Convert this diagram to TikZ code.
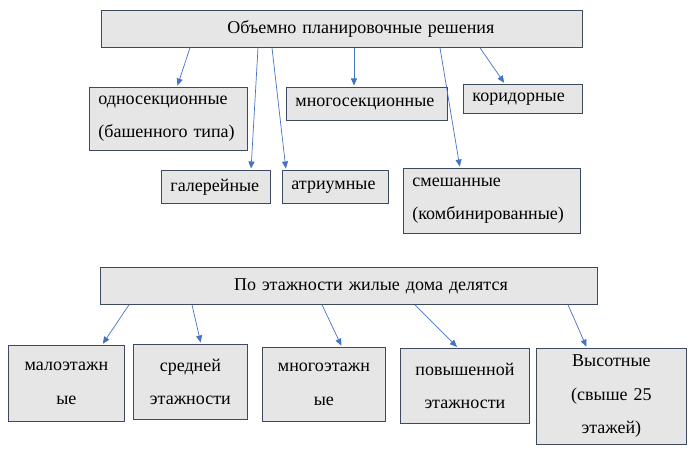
\documentclass[tikz,border=0pt]{standalone}
\usepackage{fontspec}
\setmainfont{Liberation Serif}
\usepackage{tikz}
\usetikzlibrary{arrows.meta}

\definecolor{boxfill}{HTML}{E7E6E6}
\definecolor{boxline}{HTML}{3B4A5E}
\definecolor{linkblue}{HTML}{4472C4}

\begin{document}
\begin{tikzpicture}[x=1pt, y=-1pt,
            box/.style={draw=boxline, fill=boxfill, line width=0.8pt, anchor=north west,
                        inner xsep=9pt, inner ysep=0pt, font=\fontsize{18}{33.5}\selectfont},
            box left/.style={box, align=left},
            box mid/.style={box, align=center, inner xsep=4pt},
            link/.style={-{Triangle[width=6pt, length=7pt]}, linkblue, line width=0.7pt, shorten >=1.5pt}]

            \useasboundingbox (0,0) rectangle (691,452);

            % Planning solutions
            \node[box mid, text width=473, minimum height=37] (plan) at (101,10)
                {\hspace*{38pt}Объемно планировочные решения};
            \node[box left, text width=140, minimum height=63] (odno) at (89,87)
                {односекционные\\(башенного типа)};
            \node[box left, text width=143, minimum height=33] (mnogo) at (286,87) {многосекционные};
            \node[box left, text width=101, minimum height=29] (korid) at (463,84) {коридорные};
            \node[box left, text width=91, minimum height=33] (galer) at (161,170) {галерейные};
            \node[box left, text width=88, minimum height=33] (atri) at (282,170) {атриумные};
            \node[box left, text width=159, minimum height=65] (smesh) at (403,168)
                {смешанные\\(комбинированные)};

            \foreach \s/\t/\d in {89/odno/88, 157/galer/90, 171/atri/4,
                                  253/mnogo/68, 339/smesh/57, 379/korid/42} {
                \draw[link] ([xshift=\s pt]plan.south west) -- ([xshift=\d pt]\t.north west);
            }

            % Number of storeys
            \node[box mid, text width=489, minimum height=37] (etazh) at (100,267)
                {\hspace*{44pt}По этажности жилые дома делятся};
            \node[box mid, text width=108, minimum height=76] (malo) at (8,345) {малоэтажн\\ые};
            \node[box mid, text width=106, minimum height=75] (sred) at (133,344) {средней\\этажности};
            \node[box mid, text width=115, minimum height=74] (mnogoet) at (262,347) {многоэтажн\\ые};
            \node[box mid, text width=121, minimum height=75] (povysh) at (400,348) {повышенной\\этажности};
            \node[box mid, text width=142, minimum height=96] (vysot) at (536,348)
                {Высотные\\(свыше 25\\этажей)};

            \foreach \s/\t/\d in {29/malo/94, 92/sred/68, 222/mnogoet/80,
                                  315/povysh/58, 468/vysot/51} {
                \draw[link] ([xshift=\s pt]etazh.south west) -- ([xshift=\d pt]\t.north west);
            }
        \end{tikzpicture}
\end{document}
